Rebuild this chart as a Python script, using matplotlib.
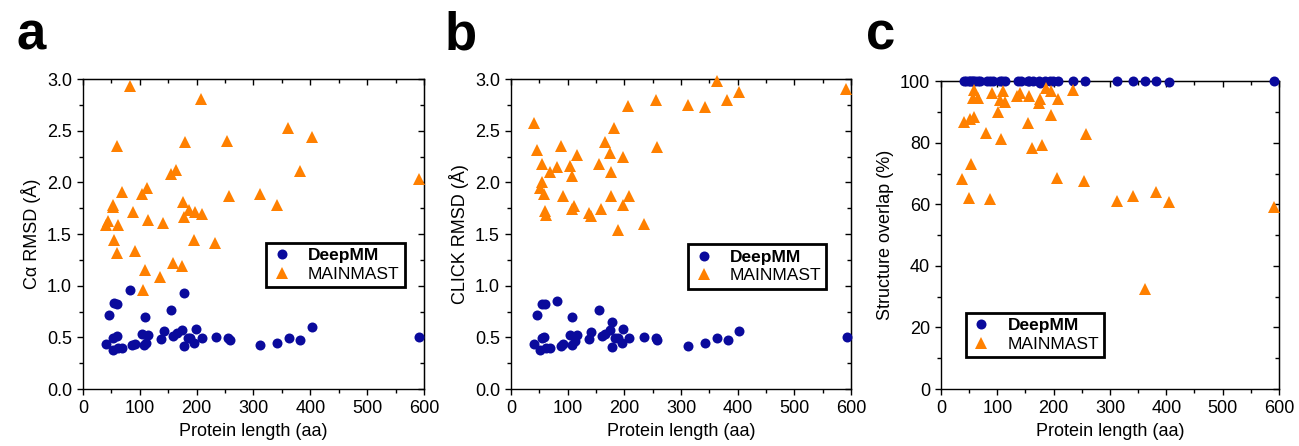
import matplotlib
matplotlib.use('Agg')
import matplotlib.pyplot as plt
from matplotlib.ticker import MultipleLocator

plt.rcParams['font.family'] = ['Liberation Sans', 'DejaVu Sans']

# ---- data (protein length in aa) ----
# panel a: C-alpha RMSD
a_deep_len = [82, 177, 55, 60, 45, 109, 155, 403, 198, 174, 142, 165, 104, 115, 159, 60, 53,
              234, 256, 259, 209, 184, 137, 196, 592, 362, 381, 341, 312, 40, 107, 111, 92, 86,
              52, 61, 69, 177, 188]
a_deep_val = [0.96, 0.93, 0.83, 0.82, 0.72, 0.70, 0.76, 0.60, 0.58, 0.57, 0.56, 0.54, 0.53, 0.52,
              0.51, 0.51, 0.49, 0.50, 0.49, 0.47, 0.49, 0.49, 0.48, 0.45, 0.50, 0.49, 0.47, 0.45,
              0.43, 0.44, 0.43, 0.45, 0.44, 0.43, 0.38, 0.40, 0.40, 0.42, 0.49]
a_main_len = [82, 207, 361, 403, 60, 179, 254, 164, 155, 381, 592, 69, 112, 104, 257, 311, 341,
              52, 53, 176, 88, 115, 141, 177, 187, 197, 209, 44, 40, 62, 55, 195, 233, 60, 92,
              159, 174, 109, 136, 106]
a_main_val = [2.93, 2.81, 2.53, 2.44, 2.35, 2.39, 2.40, 2.12, 2.08, 2.11, 2.03, 1.91, 1.95, 1.89,
              1.87, 1.89, 1.78, 1.78, 1.76, 1.81, 1.71, 1.64, 1.61, 1.66, 1.73, 1.71, 1.69, 1.63,
              1.59, 1.59, 1.44, 1.44, 1.41, 1.32, 1.34, 1.22, 1.19, 1.15, 1.08, 0.96]

# panel b: CLICK RMSD
b_deep_len = [82, 55, 60, 155, 45, 108, 178, 198, 403, 174, 141, 104, 116, 160, 165, 58, 54,
              235, 255, 258, 209, 183, 137, 196, 593, 363, 383, 342, 313, 41, 108, 92, 88, 52,
              62, 69, 178, 188, 113]
b_deep_val = [0.85, 0.82, 0.82, 0.76, 0.72, 0.70, 0.65, 0.58, 0.56, 0.57, 0.55, 0.52, 0.52, 0.51,
              0.53, 0.50, 0.49, 0.50, 0.49, 0.47, 0.49, 0.49, 0.48, 0.45, 0.50, 0.49, 0.47, 0.45,
              0.42, 0.44, 0.43, 0.44, 0.42, 0.38, 0.40, 0.40, 0.41, 0.49, 0.46]
b_main_len = [363, 592, 403, 382, 255, 207, 313, 342, 40, 181, 165, 88, 258, 45, 174, 116, 197,
              55, 155, 82, 104, 68, 177, 108, 54, 52, 59, 92, 177, 209, 198, 112, 107, 159, 60,
              61, 137, 141, 234, 188]
b_main_val = [2.98, 2.90, 2.87, 2.80, 2.80, 2.74, 2.75, 2.73, 2.57, 2.53, 2.39, 2.35, 2.34, 2.31,
              2.28, 2.26, 2.25, 2.18, 2.18, 2.15, 2.16, 2.10, 2.10, 2.06, 2.00, 1.95, 1.89, 1.87,
              1.87, 1.87, 1.78, 1.77, 1.74, 1.74, 1.72, 1.68, 1.70, 1.67, 1.60, 1.54]

# panel c: structure overlap (%)
c_deep_len = [40, 45, 49, 52, 55, 57, 60, 65, 69, 81, 87, 92, 105, 109, 114, 137, 142, 155,
              157, 164, 174, 176, 184, 194, 198, 208, 234, 256, 312, 341, 362, 382, 404, 592]
c_deep_val = [100, 100, 100, 100, 100, 100, 100, 100, 100, 100, 100, 100, 100, 100, 100, 100,
              100, 100, 100, 100, 100, 99.5, 100, 100, 100, 100, 100, 100, 100, 100, 100, 100,
              99.6, 100]
c_main_len = [186, 196, 59, 234, 90, 110, 140, 135, 157, 56, 66, 104, 114, 176, 174, 208, 102,
              58, 51, 41, 195, 154, 80, 257, 107, 179, 162, 53, 38, 206, 254, 50, 87, 382, 341,
              312, 404, 592, 362]
c_main_val = [97.8, 96.8, 97.0, 97.0, 96.1, 96.8, 96.1, 95.1, 95.1, 94.6, 94.4, 93.8, 93.4, 94.1,
              93.0, 94.3, 89.9, 88.4, 87.6, 86.8, 88.9, 86.5, 83.2, 83.0, 81.1, 79.4, 78.4, 73.2,
              68.1, 68.6, 67.6, 62.2, 61.8, 64.0, 62.7, 61.2, 60.9, 59.1, 32.4]

deep_color = '#0a0a9c'
main_color = '#ff8000'

fig = plt.figure(figsize=(12.99, 4.46), dpi=100)
ax_a = fig.add_axes([0.0639, 0.1278, 0.2625, 0.695])
ax_b = fig.add_axes([0.3934, 0.1278, 0.2617, 0.695])
ax_c = fig.add_axes([0.7244, 0.1278, 0.2602, 0.690])

panels = [
    (ax_a, a_deep_len, a_deep_val, a_main_len, a_main_val, 'C\u03b1 RMSD (\u00c5)', (0.74, 0.40)),
    (ax_b, b_deep_len, b_deep_val, b_main_len, b_main_val, 'CLICK RMSD (\u00c5)', (0.724, 0.395)),
    (ax_c, c_deep_len, c_deep_val, c_main_len, c_main_val, 'Structure overlap (%)', (0.278, 0.175)),
]

for ax, dl, dv, ml, mv, ylab, leg_pos in panels:
    ax.plot(dl, dv, 'o', color=deep_color, markersize=7.2, markeredgewidth=0,
            label='DeepMM', clip_on=False, zorder=3)
    ax.plot(ml, mv, '^', color=main_color, markersize=8, markeredgewidth=0,
            label='MAINMAST', clip_on=False, zorder=3)

    ax.set_xlim(0, 600)
    ax.xaxis.set_major_locator(MultipleLocator(100))
    ax.xaxis.set_minor_locator(MultipleLocator(50))
    ax.set_xlabel('Protein length (aa)', fontsize=13)
    ax.set_ylabel(ylab, fontsize=13)

    for sp in ax.spines.values():
        sp.set_linewidth(1.0)
    ax.tick_params(which='both', direction='out', labelsize=13, width=1.0)
    ax.tick_params(which='major', length=4.5)
    ax.tick_params(which='minor', length=3)

    # mirrored inward ticks on top and right
    top = ax.secondary_xaxis('top')
    top.xaxis.set_major_locator(MultipleLocator(100))
    top.xaxis.set_minor_locator(MultipleLocator(50))
    top.tick_params(which='both', direction='in', labeltop=False, width=1.0)
    top.tick_params(which='major', length=4.5)
    top.tick_params(which='minor', length=3)
    right = ax.secondary_yaxis('right')
    right.tick_params(which='both', direction='in', labelright=False, width=1.0)
    right.tick_params(which='major', length=4.5)
    right.tick_params(which='minor', length=3)

    leg = ax.legend(loc='center', bbox_to_anchor=leg_pos, fontsize=12.5, frameon=True,
                    fancybox=False, framealpha=1, edgecolor='black', handletextpad=0.9,
                    borderpad=0.3, labelspacing=0.2, handlelength=1.2, borderaxespad=0)
    leg.get_frame().set_linewidth(2.0)
    leg.get_texts()[0].set_fontweight('bold')

    if ax is ax_c:
        ax.set_ylim(0, 100)
        ax.yaxis.set_major_locator(MultipleLocator(20))
        ax.yaxis.set_minor_locator(MultipleLocator(10))
        right.yaxis.set_major_locator(MultipleLocator(20))
        right.yaxis.set_minor_locator(MultipleLocator(10))
    else:
        ax.set_ylim(0, 3.0)
        ax.yaxis.set_major_locator(MultipleLocator(0.5))
        ax.yaxis.set_minor_locator(MultipleLocator(0.25))
        ax.yaxis.set_major_formatter(plt.FormatStrFormatter('%.1f'))
        right.yaxis.set_major_locator(MultipleLocator(0.5))
        right.yaxis.set_minor_locator(MultipleLocator(0.25))

for letter, xpos in [('a', 17), ('b', 445), ('c', 866)]:
    fig.text(xpos / 1299, 1 - 50 / 446, letter, fontsize=38, fontweight='bold',
             ha='left', va='baseline')

fig.savefig('out.png', dpi=100)
